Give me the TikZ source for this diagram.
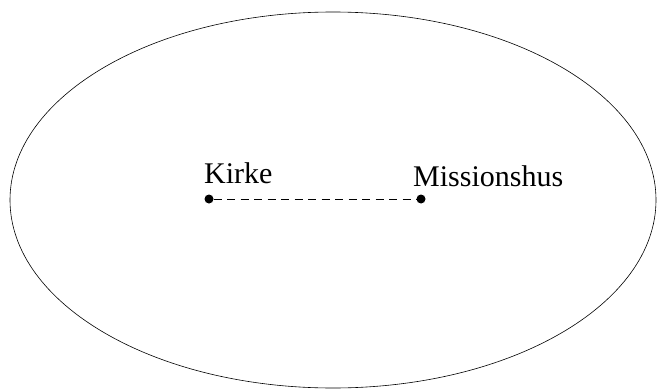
\documentclass[tikz,border=0pt]{standalone}
\usepackage{fontspec}
\setmainfont{Liberation Serif}
\usepackage{tikz}
\tikzset{
    place-dot/.style = {circle, fill=black, inner sep=0pt, minimum size=9pt},
    place-label/.style = {inner sep=0pt, anchor=base west, font=\fontsize{30}{32}\selectfont},
    path-line/.style = {line width=0.8pt, dash pattern=on 8pt off 5.5pt},
}

\begin{document}
\begin{tikzpicture}[x=1pt, y=1pt]
\useasboundingbox (0,0) rectangle (658,389);
\draw[line width=0.6pt] (333,189) ellipse [x radius=323, y radius=188];
\node [place-dot] (kirke) at (209,190) {};
\node [place-dot] (mission) at (421,190) {};
\draw [path-line] (kirke) -- (mission);
\node [place-label] (kirke-label) at ([shift={(-5,16)}]kirke.center) {Kirke};
\node [place-label] (mission-label) at ([shift={(-8,13)}]mission.center) {Missionshus};
\end{tikzpicture}
\end{document}
